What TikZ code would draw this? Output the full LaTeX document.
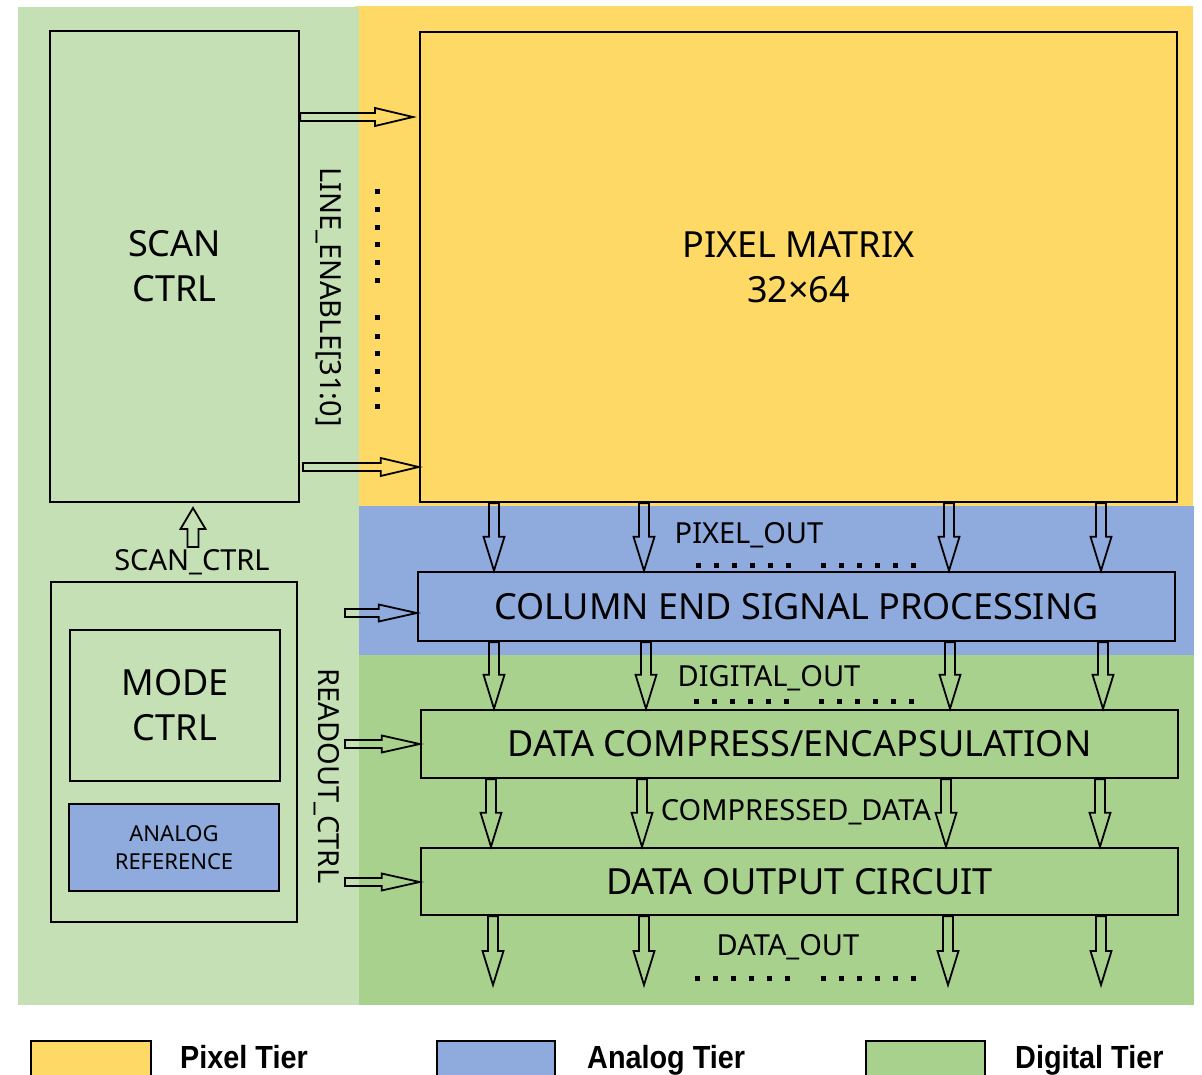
\documentclass[tikz,border=0pt]{standalone}
\usepackage{fontspec}
\setmainfont{Noto Sans}
\newfontfamily\legfont{Liberation Sans}[FakeStretch=0.9]
\usetikzlibrary{calc}
\definecolor{lgrn}{HTML}{C5E0B4}
\definecolor{yel}{HTML}{FFD966}
\definecolor{blu}{HTML}{8FAADC}
\definecolor{grn}{HTML}{A9D18E}
\newcommand\fs[2]{\fontsize{#1}{#2}\selectfont}
% horizontal block arrow (rightwards): from, to, shaft half, head half
\newcommand\harr[4]{\draw[blk] ($(#1)+(0,#3)$) -- ($(#2)+(-38,#3)$) -- ($(#2)+(-38,#4)$) -- (#2) -- ($(#2)+(-38,-#4)$) -- ($(#2)+(-38,-#3)$) -- ($(#1)+(0,-#3)$) -- cycle;}
% vertical block arrow (downwards)
\newcommand\darr[2]{\draw[blk] ($(#1)+(-5,0)$) -- ($(#2)+(-5,34)$) -- ($(#2)+(-10.5,34)$) -- (#2) -- ($(#2)+(10.5,34)$) -- ($(#2)+(5,34)$) -- ($(#1)+(5,0)$) -- cycle;}
% vertical block arrow (upwards)
\newcommand\uarr[2]{\draw[blk] ($(#1)+(-5.5,0)$) -- ($(#2)+(-5.5,-21)$) -- ($(#2)+(-12.5,-21)$) -- (#2) -- ($(#2)+(12.5,-21)$) -- ($(#2)+(5.5,-21)$) -- ($(#1)+(5.5,0)$) -- cycle;}
\begin{document}
\begin{tikzpicture}[x=1pt,y=1pt,
  box/.style={draw=black,line width=2.6pt,inner sep=0pt,align=center,font=\fs{36}{45}},
  blk/.style={draw=black,line width=1.8pt,line join=miter},
  lbl/.style={inner sep=0pt,font=\fs{29}{35}},
  dot/.style={fill=black},
  leg/.style={draw=black,line width=2.5pt},
  legtxt/.style={anchor=base west,inner sep=0pt,font=\legfont\bfseries\fs{32}{38}}]
\useasboundingbox (0,0) rectangle (1202,-1075);
% tier backgrounds
\fill[yel] (355,-6) rectangle (1193,-506);
\fill[lgrn] (18,-7) rectangle (359,-1005);
\fill[blu] (359,-506) rectangle (1194,-655);
\fill[grn] (359,-655) rectangle (1194,-1005);
% blocks
\node[box,minimum width=249,minimum height=471] (scan) at (174.5,-266.5) {SCAN\\CTRL};
\node[box,fill=yel,minimum width=757,minimum height=470] (pm) at (798.5,-267) {PIXEL MATRIX\\32×64};
\node[box,fill=blu,minimum width=757,minimum height=69] (ce) at (796.5,-606.5) {COLUMN END SIGNAL PROCESSING};
\node[box,fill=grn,minimum width=757,minimum height=68] (dc) at (799.5,-744) {DATA COMPRESS/ENCAPSULATION};
\node[box,fill=grn,minimum width=757,minimum height=67] (do) at (799.5,-881.5) {DATA OUTPUT CIRCUIT};
\node[box,minimum width=246,minimum height=340] (mo) at (174,-752) {};
\node[box,minimum width=210,minimum height=151] (mode) at (175,-705.5) {MODE\\CTRL};
\node[box,fill=blu,minimum width=210,minimum height=87,font=\fs{22}{28}] (aref) at (174,-847.5) {ANALOG\\REFERENCE};
% labels
\node[lbl,rotate=-90] (le) at (329,-297) {LINE\_ENABLE[31:0]};
\node[lbl,rotate=-90] (ro) at (327,-776) {READOUT\_CTRL};
\node[lbl] (sc) at (192,-562) {SCAN\_CTRL};
\node[lbl] (po) at (749,-535) {PIXEL\_OUT};
\node[lbl] (dg) at (769,-678) {DIGITAL\_OUT};
\node[lbl] (cd) at (796,-812) {COMPRESSED\_DATA};
\node[lbl] (dout) at (788,-947) {DATA\_OUT};
% coordinates for arrows
\coordinate (t1) at (413,-117);
\coordinate (s2) at (303,-467);
\coordinate (r1) at (345,-613);
\coordinate (r2) at (345,-744);
\coordinate (r3) at (345,-882);
\coordinate (su) at (193,-508);
\coordinate (sb) at (193,-547);
% horizontal arrows
\harr{scan.east |- t1}{t1}{4}{9}
\harr{s2}{pm.west |- s2}{4}{9}
\harr{r1}{ce.west |- r1}{4}{8.5}
\harr{r2}{dc.west |- r2}{4}{8.5}
\harr{r3}{do.west |- r3}{4}{8.5}
\uarr{sb}{su}
% vertical arrows
\foreach \x [count=\i] in {494,644,949,1101}{
  \coordinate (a\i) at (\x,0);
  \darr{a\i |- pm.south}{a\i |- ce.north}}
\foreach \x [count=\i] in {494,646,950,1103}{
  \coordinate (b\i) at (\x,0);
  \darr{b\i |- ce.south}{b\i |- dc.north}}
\foreach \x [count=\i] in {491,642,946,1100}{
  \coordinate (c\i) at (\x,0);
  \darr{c\i |- dc.south}{c\i |- do.north}}
\foreach \x [count=\i] in {493,644,948,1101}{
  \coordinate (d\i) at (\x,-985);
  \darr{d\i |- do.south}{d\i}}
% dots
\foreach \y in {192,210,228,245,263,281,318,336,353,371,389,406}
  \fill[dot] (374.5,-\y+2.5) rectangle (379.5,-\y-2.5);
\foreach \yy/\xa/\xb in {565/698/823,701/696/821,978/697/823}{
  \foreach \k in {0,...,5}{
    \fill[dot] ({\xa+18*\k-2.5},-\yy+2.5) rectangle ({\xa+18*\k+2.5},-\yy-2.5);
    \fill[dot] ({\xb+18*\k-2.5},-\yy+2.5) rectangle ({\xb+18*\k+2.5},-\yy-2.5);}}
% legend
\draw[leg,fill=yel] (31,-1041) rectangle (151,-1095);
\draw[leg,fill=blu] (437,-1041) rectangle (555,-1095);
\draw[leg,fill=grn] (866,-1041) rectangle (985,-1095);
\node[legtxt] (l1) at (180,-1068) {Pixel Tier};
\node[legtxt] (l2) at (587,-1068) {Analog Tier};
\node[legtxt] (l3) at (1015,-1068) {Digital Tier};
\end{tikzpicture}
\end{document}
